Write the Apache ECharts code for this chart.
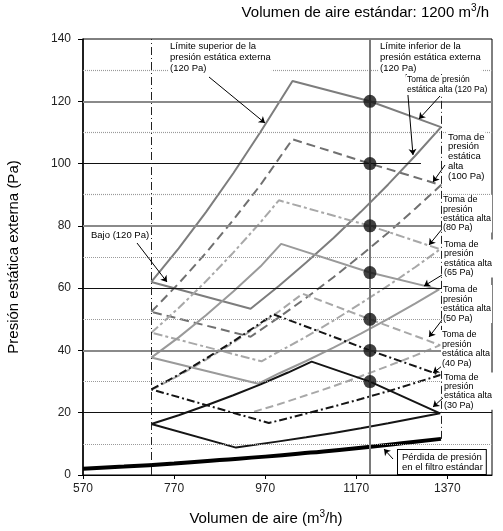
<!DOCTYPE html>
<html>
<head>
<meta charset="utf-8">
<script src="https://cdn.jsdelivr.net/npm/echarts@6/dist/echarts.min.js"></script>
<style>
html, body { margin: 0; padding: 0; background: #fff; }
#chart { width: 503px; height: 531px; }
</style>
</head>
<body>
<div id="chart"></div>
<script>
// Axis ticks
const xTicks = [570, 770, 970, 1170, 1370];
const yTicks = [0, 20, 40, 60, 80, 100, 120, 140];
const xMin = 570, xMax = 1468, yMax = 140;

// Operating band limits (m3/h)
const bandLeft = 720;
const bandRight = 1356;
const standardFlow = 1200;
const bandRightTop = 129.4;

// High static pressure taps at the standard flow (Pa)
const tapPressures = [120, 100, 80, 65, 50, 40, 30];

// Upper limit of external static pressure (left edge -> peak), fan curve "alta" (peak -> right edge),
// lower limit (right edge -> bottom). The "bajo" fan curve closes each band back to the left edge.
const sup120 = [[720, 62.0], [780, 72.8], [840, 84.4], [900, 96.9], [960, 110.2], [1030, 126.5]];
const alta120 = [[1030, 126.5], [1200, 120], [1356, 111.7]];
const inf120 = [[1356, 111.7], [1300, 102.6], [1240, 93.3], [1180, 84.5], [1120, 76.1], [1060, 68.2], [1000, 60.7], [938, 53.4]];

const sup100 = [[720, 52.4], [780, 61.5], [840, 71.3], [900, 81.9], [960, 93.2], [1030, 107.8]];
const alta100 = [[1030, 107.8], [1200, 100], [1356, 93.1]];
const inf100 = [[1356, 93.1], [1300, 85.6], [1240, 77.8], [1180, 70.5], [1120, 63.5], [1060, 56.9], [1000, 50.6], [938, 44.4]];

const sup80 = [[720, 45.7], [780, 53.6], [840, 62.2], [900, 71.4], [960, 81.2], [1000, 88.2]];
const alta80 = [[1000, 88.2], [1200, 80], [1354, 72.5]];
const inf80 = [[1354, 72.5], [1300, 66.8], [1240, 60.8], [1180, 55.1], [1120, 49.6], [1060, 44.4], [1000, 39.6], [962, 36.5]];

const sup65 = [[720, 37.7], [780, 44.2], [840, 51.3], [900, 58.9], [960, 67.0], [1005, 74.2]];
const alta65 = [[1005, 74.2], [1200, 65], [1352, 59.6]];
const inf65 = [[1352, 59.6], [1300, 55.1], [1240, 50.1], [1180, 45.4], [1120, 40.9], [1060, 36.6], [1000, 32.6], [955, 29.3]];

// The 50 Pa band shares its lower-left edge with the 40 Pa band
const sup50 = [[720, 27.3], [780, 31.9], [840, 37.0], [900, 42.5], [960, 48.4], [1000, 52.5], [1052, 58.2]];
const alta50 = [[1052, 58.2], [1200, 50], [1354, 41.7]];
const inf50 = [[1354, 41.7], [1300, 38.4], [1240, 35.0], [1180, 31.7], [1120, 28.5], [1060, 25.6], [1000, 22.7], [938, 20.0]];

const sup40 = [[720, 27.5], [780, 32.2], [840, 37.4], [900, 42.9], [960, 48.8], [988, 51.6]];
const alta40 = [[988, 51.6], [1200, 40], [1354, 32.1]];
const inf40 = [[1354, 32.1], [1300, 29.6], [1240, 26.9], [1180, 24.4], [1120, 22.0], [1060, 19.7], [1000, 17.5], [978, 16.7]];

const sup30 = [[720, 16.4], [780, 19.2], [840, 22.3], [900, 25.6], [960, 29.1], [1020, 32.9], [1072, 36.4]];
const alta30 = [[1072, 36.4], [1200, 30], [1354, 19.8]];
const inf30 = [[1354, 19.8], [1300, 18.3], [1240, 16.6], [1180, 15.0], [1120, 13.5], [1060, 12.1], [1000, 10.8], [906, 8.8]];

// Pressure loss of the standard filter
const filterLoss = [[570, 2.0], [660, 2.7], [770, 3.7], [870, 4.8], [970, 5.9], [1070, 7.2], [1170, 8.6], [1270, 10.2], [1356, 11.6]];

// Horizontal reference lines
const gridDark = [20, 60, 100];
const gridGrey = [40, 80, 120];
const gridLight = [10, 30, 50, 70, 90, 110, 130];

const FONT = '"Liberation Sans", Arial, sans-serif';

function band(sup, alta, inf, closed) {
  const pts = sup.concat(alta.slice(1), inf.slice(1));
  return closed ? pts.concat([sup[0]]) : pts;
}

const bands = [
  { name: '120 Pa', pts: band(sup120, alta120, inf120, true), style: { color: '#7d7d7d', width: 2, type: 'solid' } },
  { name: '100 Pa', pts: band(sup100, alta100, inf100, true), style: { color: '#707070', width: 2, type: [9, 5] } },
  { name: '80 Pa', pts: band(sup80, alta80, inf80, true), style: { color: '#a8a8a8', width: 2, type: [9, 3, 3, 3] } },
  { name: '65 Pa', pts: band(sup65, alta65, inf65, true), style: { color: '#9a9a9a', width: 2, type: 'solid' } },
  { name: '50 Pa', pts: band(sup50, alta50, inf50, false), style: { color: '#a8a8a8', width: 2, type: [8, 4] } },
  { name: '40 Pa', pts: band(sup40, alta40, inf40, true), style: { color: '#151515', width: 2, type: [8, 3, 2, 3] } },
  { name: '30 Pa', pts: band(sup30, alta30, inf30, true), style: { color: '#151515', width: 2, type: 'solid' } }
];

function hLine(y, style, xEnd) {
  return [{ coord: [xMin, y], lineStyle: style }, { coord: [xEnd || xMax, y] }];
}

const gridLines = []
  .concat(gridLight.map(y => hLine(y, { color: '#9a9a9a', width: 1.2, type: [1, 1] })))
  .concat(gridGrey.map(y => hLine(y, { color: '#8a8a8a', width: 2, type: 'solid' })))
  .concat(gridDark.map(y => hLine(y, { color: '#111', width: 1, type: 'solid' }, y === 100 ? 1312 : xMax)));

const verticalLines = [
  [{ coord: [bandLeft, 0], lineStyle: { color: '#222', width: 1, type: [8, 3, 1, 3] } }, { coord: [bandLeft, yMax] }],
  [{ coord: [bandRight, filterLoss[filterLoss.length - 1][1]], lineStyle: { color: '#222', width: 1, type: [8, 3, 1, 3] } }, { coord: [bandRight, bandRightTop] }],
  [{ coord: [standardFlow, 0], lineStyle: { color: '#7a7a7a', width: 2, type: 'solid' } }, { coord: [standardFlow, yMax] }]
];

// Leader arrows for the annotations (pixel positions)
const arrows = [
  [[209, 77], [265, 123]],
  [[406, 72], [413, 155]],
  [[440, 96], [419, 119]],
  [[445, 165], [433, 182]],
  [[442, 229], [429, 245]],
  [[442, 275], [424, 286]],
  [[442, 320], [429, 337]],
  [[442, 366], [433, 373]],
  [[444, 397], [433, 407]],
  [[137, 243], [167, 282]],
  [[393, 459], [384, 449]]
];

const series = [];
series.push({
  type: 'line', silent: true, data: [], symbol: 'none',
  markLine: { silent: true, symbol: 'none', label: { show: false }, animation: false, data: gridLines.concat(verticalLines) },
  z: 1
});
bands.forEach(b => {
  series.push({
    type: 'line', name: b.name, data: b.pts, symbol: 'none', smooth: false,
    lineStyle: b.style, z: 3, animation: false
  });
});
series.push({
  type: 'line', name: 'filtro', data: filterLoss, symbol: 'none', smooth: true,
  lineStyle: { color: '#000', width: 4 }, z: 3, animation: false
});
series.push({
  type: 'scatter', data: tapPressures.map(p => [standardFlow, p]), symbol: 'circle', symbolSize: 13,
  itemStyle: { color: '#111' }, z: 5, animation: false
});
series.push({
  type: 'line', data: [], symbol: 'none',
  markLine: {
    silent: true, symbol: ['none', 'arrow'], symbolSize: 6, label: { show: false }, animation: false,
    lineStyle: { color: '#000', width: 1, type: 'solid' },
    data: arrows.map(a => [{ x: a[0][0], y: a[0][1] }, { x: a[1][0], y: a[1][1] }])
  },
  z: 6
});

function note(text, left, top, size, lh) {
  return {
    type: 'text', left: left, top: top, z: 20,
    style: { text: text, font: size + 'px ' + FONT, fill: '#000', lineHeight: lh, backgroundColor: '#fff', padding: [0, 1] }
  };
}

const supRich = {
  a: { fontSize: 15, fontFamily: FONT, fill: '#000', lineHeight: 19 },
  s: { fontSize: 10, fontFamily: FONT, fill: '#000', verticalAlign: 'top', lineHeight: 19 }
};

const graphics = [
  {
    type: 'text', z: 20, right: 14, top: 3,
    style: { text: '{a|Volumen de aire estándar: 1200 m}{s|3}{a|/h}', rich: supRich }
  },
  {
    type: 'text', z: 20, x: 14, y: 257, rotation: Math.PI / 2,
    style: { text: 'Presión estática externa (Pa)', font: '15px ' + FONT, fill: '#000', align: 'center', verticalAlign: 'middle' }
  },
  {
    type: 'text', z: 20, x: 266, y: 519,
    style: { text: '{a|Volumen de aire (m}{s|3}{a|/h)}', align: 'center', verticalAlign: 'middle', rich: supRich }
  },
  note('Límite superior de la\npresión estática externa\n(120 Pa)', 169, 41, 9.5, 11),
  note('Límite inferior de la\npresión estática externa\n(120 Pa)', 379, 41, 9.5, 11),
  note('Toma de presión\nestática alta (120 Pa)', 406, 75, 8.5, 10),
  note('Toma de\npresión\nestática\nalta\n(100 Pa)', 447, 132, 9.5, 9.8),
  note('Toma de\npresión\nestática alta\n(80 Pa)', 442, 195, 9, 9.4),
  note('Toma de\npresión\nestática alta\n(65 Pa)', 443, 239.5, 9, 9.5),
  note('Toma de\npresión\nestática alta\n(50 Pa)', 442, 285, 9, 9.5),
  note('Toma de\npresión\nestática alta\n(40 Pa)', 441, 330, 9, 9.5),
  note('Toma de\npresión\nestática alta\n(30 Pa)', 443, 372.5, 9, 9.3),
  note('Bajo (120 Pa)', 90, 230, 9.5, 11),
  {
    type: 'text', z: 20, left: 397, top: 449,
    style: {
      text: 'Pérdida de presión\nen el filtro estándar', font: '9.5px ' + FONT, fill: '#000', lineHeight: 10,
      backgroundColor: '#fff', borderColor: '#000', borderWidth: 1, padding: [2, 3, 2, 4], align: 'center'
    }
  }
];

const chart = echarts.init(document.getElementById('chart'), null, { renderer: 'canvas' });
chart.setOption({
  animation: false,
  backgroundColor: '#fff',
  grid: { left: 83, right: 11, top: 39, bottom: 56, show: true, borderColor: '#000', borderWidth: 1, backgroundColor: 'transparent' },
  xAxis: {
    type: 'value', min: xMin, max: xMax,
    axisLine: { lineStyle: { color: '#000', width: 1 } },
    axisTick: { show: true, length: 4, lineStyle: { color: '#000' }, customValues: xTicks },
    axisLabel: { customValues: xTicks, color: '#222', fontSize: 12, fontFamily: FONT, margin: 8, formatter: v => String(v) },
    splitLine: { show: false }
  },
  yAxis: {
    type: 'value', min: 0, max: yMax, interval: 20,
    axisLine: { show: true, lineStyle: { color: '#000', width: 1.5 } },
    axisTick: { show: true, length: 5, lineStyle: { color: '#000' } },
    axisLabel: { color: '#222', fontSize: 12, fontFamily: FONT, margin: 12, formatter: v => String(v) },
    splitLine: { show: false }
  },
  series: series,
  graphic: graphics
});
</script>
</body>
</html>
